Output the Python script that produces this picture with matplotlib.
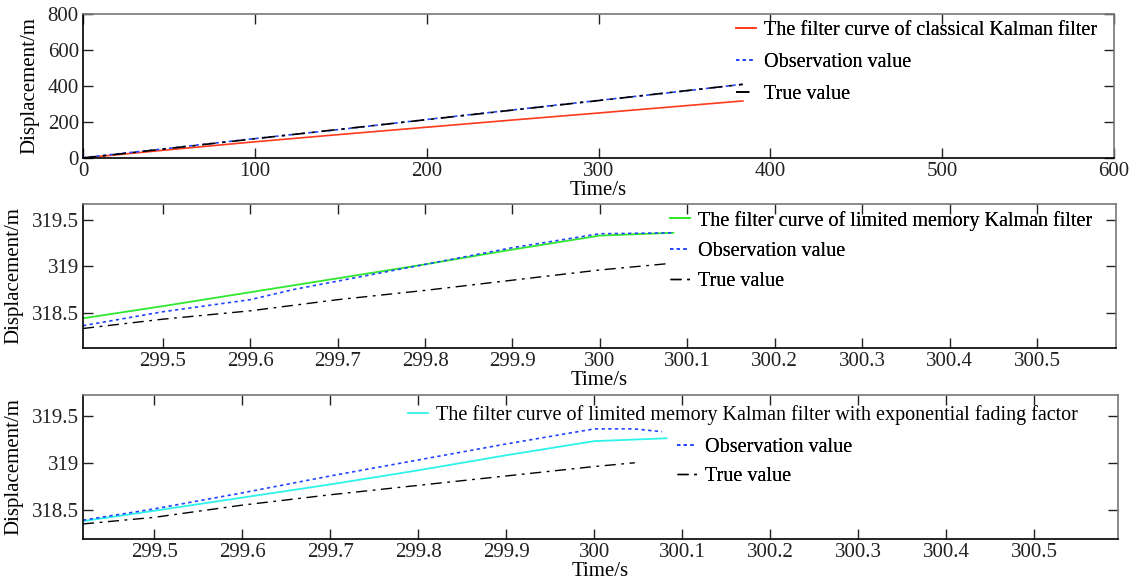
import matplotlib
matplotlib.use("Agg")
import matplotlib.pyplot as plt

plt.rcParams['font.family'] = ['Liberation Serif', 'DejaVu Serif']

# ---- Panel 1: classical Kalman filter ----
t_top = [0, 50, 100, 150, 200, 250, 300, 350, 384]
kf_top = [0, 46, 90, 131, 171, 211, 250, 290, 317]
obs_top = [2, 54, 108, 159, 214, 267, 320, 372, 410]
true_top = [0, 53, 107, 160, 213, 266, 319, 373, 409]
xticks_top = [0, 100, 200, 300, 400, 500, 600]
yticks_top = [0, 200, 400, 600, 800]

# ---- Panel 2: limited memory Kalman filter ----
t_mid = [299.409, 299.5, 299.6, 299.7, 299.8, 299.9, 300.0, 300.084]
lm_mid = [318.44, 318.57, 318.72, 318.87, 319.02, 319.18, 319.33, 319.36]
t_obs_mid = [299.409, 299.5, 299.6, 299.65, 299.7, 299.8, 299.9, 300.0, 300.084]
obs_mid = [318.36, 318.51, 318.64, 318.75, 318.84, 319.02, 319.20, 319.35, 319.36]
t_true_mid = [299.409, 299.5, 299.6, 299.7, 299.8, 299.9, 300.0, 300.08]
true_mid = [318.33, 318.43, 318.52, 318.64, 318.74, 318.85, 318.96, 319.03]

# ---- Panel 3: limited memory KF with exponential fading factor ----
t_bot = [299.419, 299.5, 299.6, 299.7, 299.8, 299.9, 300.0, 300.082]
lmf_bot = [318.38, 318.49, 318.63, 318.77, 318.92, 319.08, 319.23, 319.26]
t_obs_bot = [299.419, 299.5, 299.6, 299.7, 299.8, 299.9, 300.0, 300.045, 300.077]
obs_bot = [318.39, 318.51, 318.68, 318.86, 319.03, 319.20, 319.36, 319.36, 319.33]
t_true_bot = [299.419, 299.5, 299.6, 299.7, 299.8, 299.9, 300.0, 300.046]
true_bot = [318.35, 318.42, 318.55, 318.66, 318.76, 318.86, 318.96, 319.00]

xticks_zoom = [299.5, 299.6, 299.7, 299.8, 299.9, 300.0, 300.1, 300.2, 300.3, 300.4, 300.5]
xticklabels_zoom = ['299.5', '299.6', '299.7', '299.8', '299.9', '300', '300.1',
                    '300.2', '300.3', '300.4', '300.5']
yticks_zoom = [318.5, 319.0, 319.5]
yticklabels_zoom = ['318.5', '319', '319.5']

labels = {
    'kf': 'The filter curve of classical Kalman filter',
    'lm': 'The filter curve of limited memory Kalman filter',
    'lmf': 'The filter curve of limited memory Kalman filter with exponential fading factor',
    'obs': 'Observation value',
    'true': 'True value',
}

W, H = 1137, 585
fig = plt.figure(figsize=(W / 100, H / 100), dpi=100)


def px_axes(l, t, r, b):
    return fig.add_axes([l / W, 1 - b / H, (r - l) / W, (b - t) / H])


ax1 = px_axes(83, 14, 1114, 158)
ax2 = px_axes(83, 204, 1116, 348)
ax3 = px_axes(83, 395, 1118, 539)

RED = '#ff3a1a'
GREEN = '#2fe82f'
CYAN = '#2ff2ea'
BLUE = '#2244ff'

fs = 15
lfs = 14.5
TRUE_LS = (0, (8, 4, 2, 4))
OBS_LS = (0, (2, 2))


def style(ax):
    for s in ['left', 'bottom']:
        ax.spines[s].set_color('black')
        ax.spines[s].set_linewidth(1.2)
    for s in ['top', 'right']:
        ax.spines[s].set_color('#777777')
        ax.spines[s].set_linewidth(1.2)
    ax.tick_params(direction='in', length=7, width=1, top=True, right=True,
                   labelsize=fs, pad=3, colors='#222222')
    ax.set_xlabel('Time/s', fontsize=fs, labelpad=0)
    ax.set_ylabel('Displacement/m', fontsize=fs, labelpad=6)


def leg(ax, handles, x, y, spacing):
    lg = ax.legend(handles=handles, loc='upper left', bbox_to_anchor=(x, y),
                   frameon=False, fontsize=lfs, handlelength=1.0,
                   handletextpad=0.4, labelspacing=spacing,
                   borderpad=0, borderaxespad=0)
    ax.add_artist(lg)
    return lg


# Panel 1
h1 = ax1.plot(t_top, kf_top, color=RED, lw=1.2, label=labels['kf'])[0]
h2 = ax1.plot(t_top, obs_top, color=BLUE, lw=1.2, ls=OBS_LS, label=labels['obs'])[0]
h3 = ax1.plot(t_top, true_top, color='black', lw=1.2, ls=TRUE_LS, label=labels['true'])[0]
ax1.set_xlim(0, 600)
ax1.set_ylim(0, 800)
ax1.set_xticks(xticks_top)
ax1.set_yticks(yticks_top)
style(ax1)
leg(ax1, [h1, h2, h3], 0.633, 0.954, 0.66)

# Panel 2
h1 = ax2.plot(t_mid, lm_mid, color=GREEN, lw=1.3, label=labels['lm'])[0]
h2 = ax2.plot(t_obs_mid, obs_mid, color=BLUE, lw=1.2, ls=OBS_LS, label=labels['obs'])[0]
h3 = ax2.plot(t_true_mid, true_mid, color='black', lw=1.0, ls=TRUE_LS, label=labels['true'])[0]
ax2.set_xlim(299.409, 300.59)
ax2.set_ylim(318.12, 319.67)
ax2.set_xticks(xticks_zoom)
ax2.set_xticklabels(xticklabels_zoom)
ax2.set_yticks(yticks_zoom)
ax2.set_yticklabels(yticklabels_zoom)
style(ax2)
leg(ax2, [h1, h2, h3], 0.568, 0.954, 0.56)

# Panel 3
h1 = ax3.plot(t_bot, lmf_bot, color=CYAN, lw=1.3, label=labels['lmf'])[0]
h2 = ax3.plot(t_obs_bot, obs_bot, color=BLUE, lw=1.2, ls=OBS_LS, label=labels['obs'])[0]
h3 = ax3.plot(t_true_bot, true_bot, color='black', lw=1.0, ls=TRUE_LS, label=labels['true'])[0]
ax3.set_xlim(299.419, 300.595)
ax3.set_ylim(318.19, 319.72)
ax3.set_xticks(xticks_zoom)
ax3.set_xticklabels(xticklabels_zoom)
ax3.set_yticks(yticks_zoom)
ax3.set_yticklabels(yticklabels_zoom)
style(ax3)
leg(ax3, [h1], 0.314, 0.933, 0.4)
leg(ax3, [h2, h3], 0.574, 0.704, 0.5)

fig.savefig('out.png', dpi=100)
